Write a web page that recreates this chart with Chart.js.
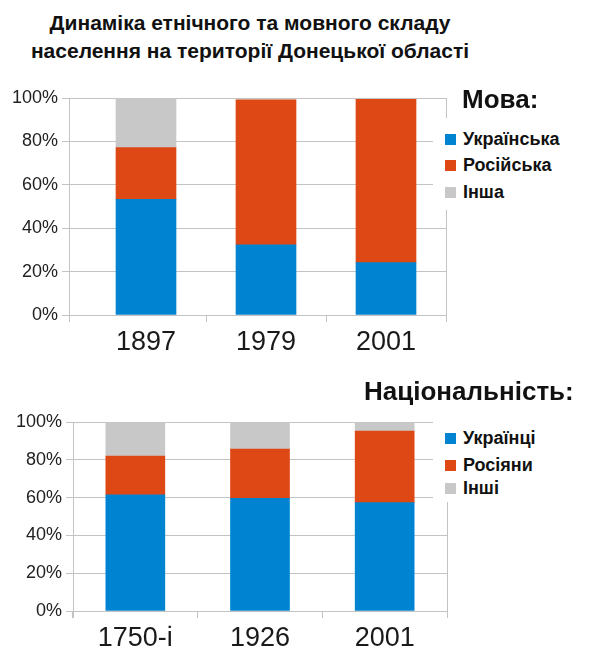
<!DOCTYPE html>
<html>
<head>
<meta charset="utf-8">
<script src="https://cdn.jsdelivr.net/npm/chart.js@4"></script>
<style>
  body { margin: 0; background: #fff; font-family: "Liberation Sans", Arial, sans-serif; }
  #page { position: relative; width: 600px; height: 659px; overflow: hidden; }
  .title { position: absolute; left: 0; top: 9px; width: 500px; text-align: center; z-index: 2;
           font-weight: bold; font-size: 21px; line-height: 28px; color: #111; }
  .head { position: absolute; font-weight: bold; font-size: 26px; color: #111; white-space: nowrap; z-index: 2; }
  .legend { position: absolute; background: #fff; z-index: 2; }
  .legend div { position: absolute; left: 12px; font-weight: bold; font-size: 18px; line-height: 20px; color: #111; white-space: nowrap; }
  .legend span { display: inline-block; width: 11px; height: 11px; margin-right: 7px; }
  canvas { position: absolute; left: 0; z-index: 1; }
</style>
</head>
<body>
<div id="page">
  <div class="title">Динаміка етнічного та мовного складу<br>населення на території Донецької області</div>
  <div class="head" style="left:462px; top:84px;">Мова:</div>
  <div class="head" style="left:364px; top:376px;">Національність:</div>
  <div class="legend" id="legendLang" style="left:433px; top:118px; width:150px; height:92px;"></div>
  <div class="legend" id="legendNat" style="left:433px; top:416px; width:150px; height:86px;"></div>
  <canvas id="langChart" width="600" height="280" style="top:80px;"></canvas>
  <canvas id="natChart" width="600" height="259" style="top:400px;"></canvas>
</div>
<script>
// Мова (language)
const langYears = ['1897', '1979', '2001'];
const langUkr = [53.3, 32.3, 24.1];
const langRus = [23.8, 66.8, 75.3];
const langOther = [22.9, 0, 0];
const langLabels = ['Українська', 'Російська', 'Інша'];

// Національність (nationality)
const natYears = ['1750-і', '1926', '2001'];
const natUkr = [61.5, 59.6, 57.3];
const natRus = [20.5, 26.1, 37.9];
const natOther = [18.0, 14.3, 4.8];
const natLabels = ['Українці', 'Росіяни', 'Інші'];

const colors = ['#0084d1', '#dd4814', '#c8c8c8'];
const gridColor = '#c3c3c3';

// extra axis lines like the original (left axis line, right frame line)
const frameLines = {
  id: 'frameLines',
  afterDraw(chart, args, opts) {
    const a = chart.chartArea;
    const ctx = chart.ctx;
    ctx.save();
    ctx.strokeStyle = gridColor;
    ctx.lineWidth = 1;
    ctx.beginPath();
    ctx.moveTo(a.left - opts.leftGap + 0.5, a.top);
    ctx.lineTo(a.left - opts.leftGap + 0.5, a.bottom + 7);
    ctx.moveTo(a.right + 0.5, a.top);
    ctx.lineTo(a.right + 0.5, a.bottom + 7);
    ctx.stroke();
    ctx.restore();
  }
};

function makeChart(id, years, series, labels, box) {
  const datasets = series.map((s, i) => ({
    label: labels[i],
    data: s,
    backgroundColor: colors[i],
    barThickness: box.bar
  }));
  new Chart(document.getElementById(id), {
    type: 'bar',
    data: { labels: years, datasets: datasets },
    plugins: [frameLines],
    options: {
      responsive: false,
      animation: false,
      layout: { padding: { top: box.top, right: box.right, left: 0, bottom: 0 } },
      plugins: {
        legend: { display: false },
        tooltip: { enabled: false },
        frameLines: { leftGap: box.leftGap }
      },
      scales: {
        x: {
          stacked: true,
          afterFit: (s) => { s.height = box.xh; },
          grid: {
            drawOnChartArea: false,
            tickLength: 7,
            color: (c) => (box.leftGap > 0 && c.index === 0) ? 'rgba(0,0,0,0)' : gridColor
          },
          border: { display: false },
          ticks: { color: '#1a1a1a', padding: 4, font: { family: 'Liberation Sans', size: 27 } }
        },
        y: {
          stacked: true,
          min: 0,
          max: 100,
          afterFit: (s) => { s.width = box.left; },
          grid: { color: gridColor, tickLength: box.tick },
          border: { display: false },
          ticks: {
            stepSize: 20,
            padding: 4,
            color: '#222',
            font: { family: 'Liberation Sans', size: 18 },
            callback: (v) => v + '%'
          }
        }
      }
    }
  });
}

function makeLegend(id, labels, rows) {
  const el = document.getElementById(id);
  labels.forEach((t, i) => {
    const d = document.createElement('div');
    d.style.top = rows[i] + 'px';
    d.innerHTML = '<span style="background:' + colors[i] + '"></span>' + t;
    el.appendChild(d);
  });
}

makeChart('langChart', langYears, [langUkr, langRus, langOther], langLabels,
  { top: 18, right: 154, left: 86, xh: 45, tick: 24, leftGap: 17, bar: 60 });
makeChart('natChart', natYears, [natUkr, natRus, natOther], natLabels,
  { top: 22, right: 153, left: 73, xh: 48, tick: 7, leftGap: 0, bar: 59 });

makeLegend('legendLang', langLabels, [11, 37, 64]);
makeLegend('legendNat', natLabels, [12, 39, 62]);
</script>
</body>
</html>
